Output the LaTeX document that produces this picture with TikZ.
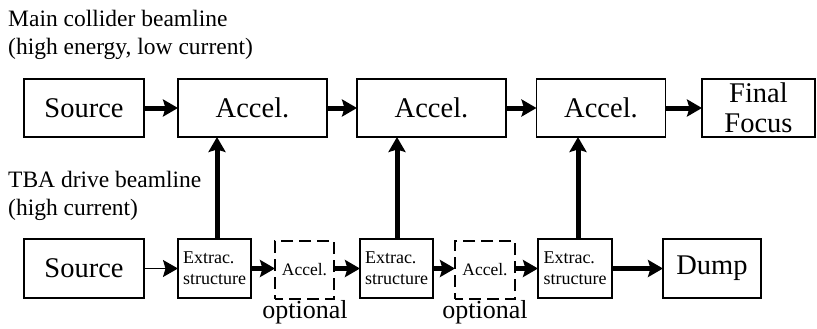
\documentclass[tikz,border=0pt]{standalone}
\usepackage{fontspec}
\setmainfont{Liberation Serif}
\usetikzlibrary{arrows.meta}
\tikzset{
  blk/.style={draw, line width=1.8pt, rectangle, inner sep=0pt, outer sep=0pt, minimum height=58pt,
    font=\fontsize{28.5}{29.5}\selectfont, align=center},
  ext/.style={draw, line width=1.6pt, rectangle, inner sep=0pt, outer sep=0pt, minimum height=59pt,
    font=\fontsize{18}{21}\selectfont, align=left},
  opt/.style={draw, line width=1.6pt, dash pattern=on 12pt off 6pt, dash phase=4pt, rectangle, inner sep=0pt, outer sep=0pt,
    minimum height=58pt, font=\fontsize{17.5}{21}\selectfont},
  lbl/.style={inner sep=0pt, font=\fontsize{23.5}{28}\selectfont},
  optl/.style={inner sep=0pt, font=\fontsize{26}{28}\selectfont},
  arr/.style={line width=5pt, -{Stealth[length=15pt,width=17pt,inset=2.5pt]}},
  thinarr/.style={line width=1.2pt, -{Stealth[length=15pt,width=17pt,inset=2.5pt]}},
}
\begin{document}
\begin{tikzpicture}[x=1pt,y=-1pt]
\useasboundingbox (0,0) rectangle (817,329);
% labels
\node[lbl, anchor=base west] (l1) at (8,27) {Main collider beamline};
\node[lbl, anchor=base west] (l2) at (8,55) {(high energy, low current)};
\node[lbl, anchor=base west] (l3) at (8,187) {TBA drive beamline};
\node[lbl, anchor=base west] (l4) at (8,215) {(high current)};
% top row
\node[blk, minimum width=120pt] (srcT) at (84,108) {Source};
\node[blk, minimum width=149pt] (a1) at (252.5,108) {Accel.};
\node[blk, minimum width=149pt] (a2) at (431.5,108) {Accel.};
\node[blk, minimum width=129pt] (a3) at (601,108) {Accel.};
\node[blk, minimum width=113pt] (ff) at (758.5,108) {Final\\Focus};
% bottom row
\node[blk, minimum width=120pt, minimum height=59pt] (srcB) at (84,268.5) {Source};
\node[ext, minimum width=73pt] (e1) at (214.5,268.5) {Extrac.\\structure};
\node[opt, minimum width=59pt] (d1) at (304.5,270) {Accel.};
\node[ext, minimum width=73pt] (e2) at (396.5,268.5) {Extrac.\\structure};
\node[opt, minimum width=60pt] (d2) at (485,270) {Accel.};
\node[ext, minimum width=74pt] (e3) at (575,268.5) {Extrac.\\structure};
\node[blk, minimum width=98pt, minimum height=59pt] (dump) at (712,268.5) {Dump};
\node[optl, anchor=base] (o1) at (305,318) {optional};
\node[optl, anchor=base] (o2) at (485,318) {optional};
% top arrows
\draw[arr] (srcT) -- (a1);
\draw[arr] (a1) -- (a2);
\draw[arr] (a2) -- (a3);
\draw[arr] (a3) -- (ff);
% bottom arrows
\draw[thinarr] (srcB) -- (e1);
\draw[arr] (e1) -- (d1.west |- e1.east);
\draw[arr] (d1.east |- e2.west) -- (e2);
\draw[arr] (e2) -- (d2.west |- e2.east);
\draw[arr] (d2.east |- e3.west) -- (e3);
\draw[arr] (e3) -- (dump);
% vertical arrows
\draw[arr] ([xshift=2.5pt]e1.north) -- ([xshift=2.5pt]e1.north |- a1.south);
\draw[arr] ([xshift=0.5pt]e2.north) -- ([xshift=0.5pt]e2.north |- a2.south);
\draw[arr] ([xshift=3pt]e3.north) -- ([xshift=3pt]e3.north |- a3.south);
\end{tikzpicture}
\end{document}
